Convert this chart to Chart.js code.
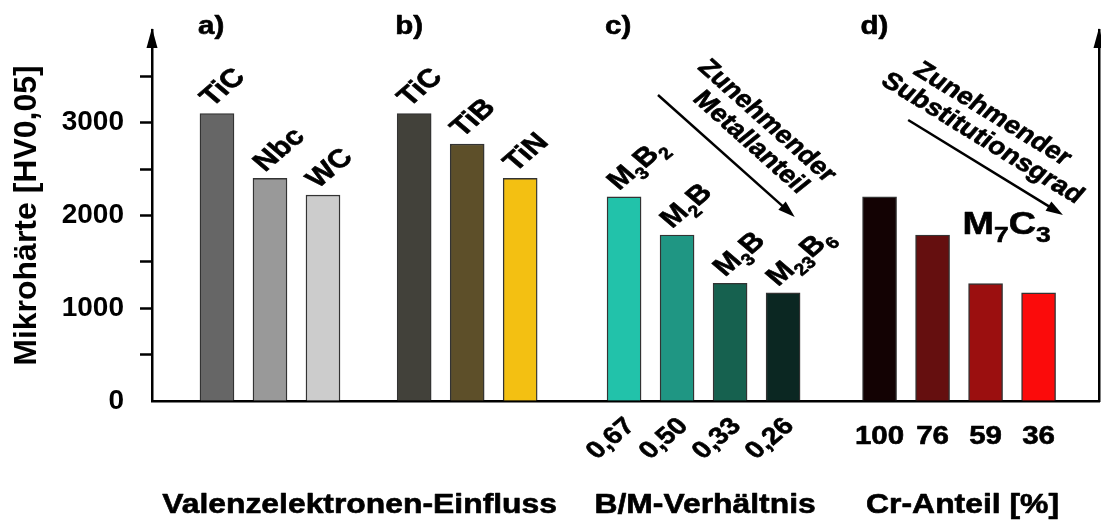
<!DOCTYPE html>
<html>
<head>
<meta charset="utf-8">
<script src="https://cdn.jsdelivr.net/npm/chart.js@4.4.1/dist/chart.umd.min.js"></script>
<style>
    html, body { margin: 0; padding: 0; background: #fff; }
</style>
</head>
<body>
<canvas id="hardnessChart" width="1101" height="521"></canvas>
<script>
// a) Valenzelektronen-Einfluss
const labelsA = ['TiC', 'Nbc', 'WC'];
const valuesA = [3100, 2400, 2220];
// b)
const labelsB = ['TiC', 'TiB', 'TiN'];
const valuesB = [3100, 2770, 2400];
// c) B/M-Verhältnis  ("_n" = Index)
const labelsC = ['M_3B_2', 'M_2B', 'M_3B', 'M_23B_6'];
const ratioC = ['0,67', '0,50', '0,33', '0,26'];
const valuesC = [2200, 1790, 1270, 1165];
// d) Cr-Anteil
const phaseD = 'M_7C_3';
const crShareD = ['100', '76', '59', '36'];
const valuesD = [2200, 1790, 1265, 1165];

const panelTitles = ['a)', 'b)', 'c)', 'd)'];
const groupTitles = ['Valenzelektronen-Einfluss', 'B/M-Verhältnis', 'Cr-Anteil [%]'];
const yTitle = 'Mikrohärte [HV0,05]';
const trendTexts = [['Zunehmender', 'Metallanteil'], ['Zunehmender', 'Substitutionsgrad']];

// Farben
const colorsA = ['#666666', '#999999', '#cccccc'];
const colorsB = ['#42413a', '#5d4f29', '#f3c012'];
const colorsC = ['#22c2aa', '#1f9683', '#16614f', '#0b2722'];
const colorsD = ['#130203', '#650f0f', '#9b0f0f', '#fb0b0b'];

// Lage der Gruppen auf der x-Achse (Einheit = ein Balkenplatz)
const groupStart = [0, 3.72, 7.68, 12.5];

const FONT = '"Liberation Sans", Arial, sans-serif';
const SX = 1.18; // Bild ist horizontal gestreckt

const groups = [valuesA, valuesB, valuesC, valuesD];
const barData = [];
groups.forEach((vals, g) => {
    vals.forEach((v, i) => barData.push({ x: groupStart[g] + i, y: v }));
});

function drawRich(ctx, text, x, y, opts) {
    const size = opts.size;
    const subScale = opts.sub || 0.64;
    const angle = (opts.angle || 0) * Math.PI / 180;
    const align = opts.align || 'left';
    const parts = text.split(/_(\d+)/);
    ctx.save();
    ctx.translate(x, y);
    ctx.scale(opts.sx || SX, 1);
    ctx.rotate(angle);
    ctx.textBaseline = opts.baseline || 'alphabetic';
    ctx.textAlign = 'left';
    ctx.fillStyle = '#000';
    ctx.strokeStyle = '#000';
    ctx.lineWidth = 0.6;
    ctx.lineJoin = 'round';
    const segs = [];
    let total = 0;
    parts.forEach((p, i) => {
        if (!p) return;
        const sub = i % 2 === 1;
        ctx.font = `bold ${sub ? size * subScale : size}px ${FONT}`;
        const w = ctx.measureText(p).width;
        segs.push({ p, sub, w });
        total += w;
    });
    let cx = align === 'center' ? -total / 2 : (align === 'right' ? -total : 0);
    segs.forEach(s => {
        ctx.font = `bold ${s.sub ? size * subScale : size}px ${FONT}`;
        const dy = s.sub ? size * 0.26 : 0;
        ctx.fillText(s.p, cx, dy);
        ctx.strokeText(s.p, cx, dy);
        cx += s.w;
    });
    ctx.restore();
}

function drawArrow(ctx, x1, y1, x2, y2) {
    const a = Math.atan2(y2 - y1, x2 - x1);
    const head = 17, half = 5.5;
    ctx.save();
    ctx.strokeStyle = '#000';
    ctx.fillStyle = '#000';
    ctx.lineWidth = 2.5;
    ctx.beginPath();
    ctx.moveTo(x1, y1);
    ctx.lineTo(x2 - Math.cos(a) * head * 0.8, y2 - Math.sin(a) * head * 0.8);
    ctx.stroke();
    ctx.beginPath();
    ctx.moveTo(x2, y2);
    ctx.lineTo(x2 - Math.cos(a) * head + Math.sin(a) * half, y2 - Math.sin(a) * head - Math.cos(a) * half);
    ctx.lineTo(x2 - Math.cos(a) * head - Math.sin(a) * half, y2 - Math.sin(a) * head + Math.cos(a) * half);
    ctx.closePath();
    ctx.fill();
    ctx.restore();
}

const annotationPlugin = {
    id: 'annotations',
    afterDraw(chart) {
        const ctx = chart.ctx;
        const xs = chart.scales.x;
        const ys = chart.scales.y;
        const area = chart.chartArea;
        const bars = chart.getDatasetMeta(0).data;

        // Pfeilspitzen der senkrechten Achsen
        [area.left, area.right].forEach(x => {
            ctx.save();
            ctx.fillStyle = '#000';
            ctx.beginPath();
            ctx.moveTo(x, area.top - 2);
            ctx.lineTo(x - 5.5, area.top + 18);
            ctx.lineTo(x + 5.5, area.top + 18);
            ctx.closePath();
            ctx.fill();
            ctx.restore();
        });

        // Gruppenbuchstaben
        let first = 0;
        groups.forEach((vals, g) => {
            const b = bars[first];
            drawRich(ctx, panelTitles[g], b.x - b.width / 2 - 2, 34, { size: 25 });
            first += vals.length;
        });

        // Balkenbeschriftungen
        const barLabels = [...labelsA, ...labelsB, ...labelsC];
        barLabels.forEach((t, i) => {
            const b = bars[i];
            drawRich(ctx, t, b.x - 5, b.y - 6, { size: 26, angle: -45 });
        });

        // B/M-Verhältnis unter der Achse
        const offC = valuesA.length + valuesB.length;
        ratioC.forEach((t, i) => {
            const b = bars[offC + i];
            drawRich(ctx, t, b.x + 12, 427, { size: 24, angle: -45, align: 'right' });
        });

        // Cr-Anteil unter der Achse
        const offD = offC + valuesC.length;
        crShareD.forEach((t, i) => {
            const b = bars[offD + i];
            drawRich(ctx, t, b.x, 444, { size: 25, align: 'center' });
        });

        // M7C3
        drawRich(ctx, phaseD, bars[offD + 1].x + 30, ys.getPixelForValue(1800), { size: 32, sub: 0.7 });

        // Trendpfeile
        const trends = [
            { from: [8.32, 3299], to: [10.9, 1984], lines: [[53, 7], [26, 9]] },
            { from: [13.04, 3030], to: [15.96, 2005], lines: [[49, -22], [23, -18]] }
        ];
        trends.forEach((tr, k) => {
            const x1 = xs.getPixelForValue(tr.from[0]), y1 = ys.getPixelForValue(tr.from[1]);
            const x2 = xs.getPixelForValue(tr.to[0]), y2 = ys.getPixelForValue(tr.to[1]);
            drawArrow(ctx, x1, y1, x2, y2);
            const as = Math.atan2(y2 - y1, x2 - x1);
            const au = Math.atan(Math.tan(as) * SX) * 180 / Math.PI;
            const mx = (x1 + x2) / 2, my = (y1 + y2) / 2;
            tr.lines.forEach((off, j) => {
                const up = off[0], along = off[1];
                const px = mx + Math.cos(as) * along + Math.sin(as) * up;
                const py = my + Math.sin(as) * along - Math.cos(as) * up;
                drawRich(ctx, trendTexts[k][j], px, py, { size: 24, angle: au, align: 'center', baseline: 'middle' });
            });
        });

        // Gruppentitel unten
        const spans = [[0, offC - 1, -9], [offC, offD - 1, 1.5], [offD, bars.length - 1, 3.5]];
        spans.forEach((s, i) => {
            const cx = (bars[s[0]].x + bars[s[1]].x) / 2 + s[2];
            drawRich(ctx, groupTitles[i], cx, 513, { size: 27, align: 'center' });
        });
    }
};

Chart.defaults.font.family = FONT;
Chart.defaults.color = '#000';

new Chart(document.getElementById('hardnessChart'), {
    type: 'bar',
    data: {
        datasets: [{
            data: barData,
            backgroundColor: [...colorsA, ...colorsB, ...colorsC, ...colorsD],
            borderColor: '#333333',
            borderWidth: 1.4,
            barThickness: 34
        }]
    },
    options: {
        responsive: false,
        animation: false,
        devicePixelRatio: 1,
        layout: { padding: { left: 0, right: 2, top: 30, bottom: 0 } },
        scales: {
            x: {
                type: 'linear',
                offset: false,
                min: -1.226,
                max: 16.64,
                ticks: { display: false },
                grid: { display: false },
                border: { color: '#000', width: 2.5 },
                afterFit: scale => { scale.height = 120; }
            },
            y: {
                min: 0,
                max: 4000,
                ticks: {
                    stepSize: 500,
                    padding: 16,
                    color: '#000',
                    font: { size: 28, weight: 'bold' },
                    callback: v => (v % 1000 === 0 && v < 4000) ? String(v) : ''
                },
                grid: {
                    drawOnChartArea: false,
                    tickLength: 12,
                    tickWidth: 2.5,
                    tickColor: c => (c.tick && (c.tick.value === 0 || c.tick.value === 4000)) ? 'rgba(0,0,0,0)' : '#000'
                },
                border: { color: '#000', width: 2.5 },
                title: {
                    display: true,
                    text: yTitle,
                    color: '#000',
                    font: { size: 32, weight: 'bold' },
                    padding: { top: 8, bottom: 0 }
                },
                afterFit: scale => {
                    scale.width = 152;
                    scale.paddingTop = 0;
                    scale.paddingBottom = 0;
                }
            },
            y2: {
                position: 'right',
                display: true,
                ticks: { display: false },
                grid: { display: false },
                border: { color: '#000', width: 2.5 },
                afterFit: scale => {
                    scale.width = 0;
                    scale.paddingTop = 0;
                    scale.paddingBottom = 0;
                }
            }
        },
        plugins: {
            legend: { display: false },
            tooltip: { enabled: false }
        }
    },
    plugins: [annotationPlugin]
});
</script>
</body>
</html>
